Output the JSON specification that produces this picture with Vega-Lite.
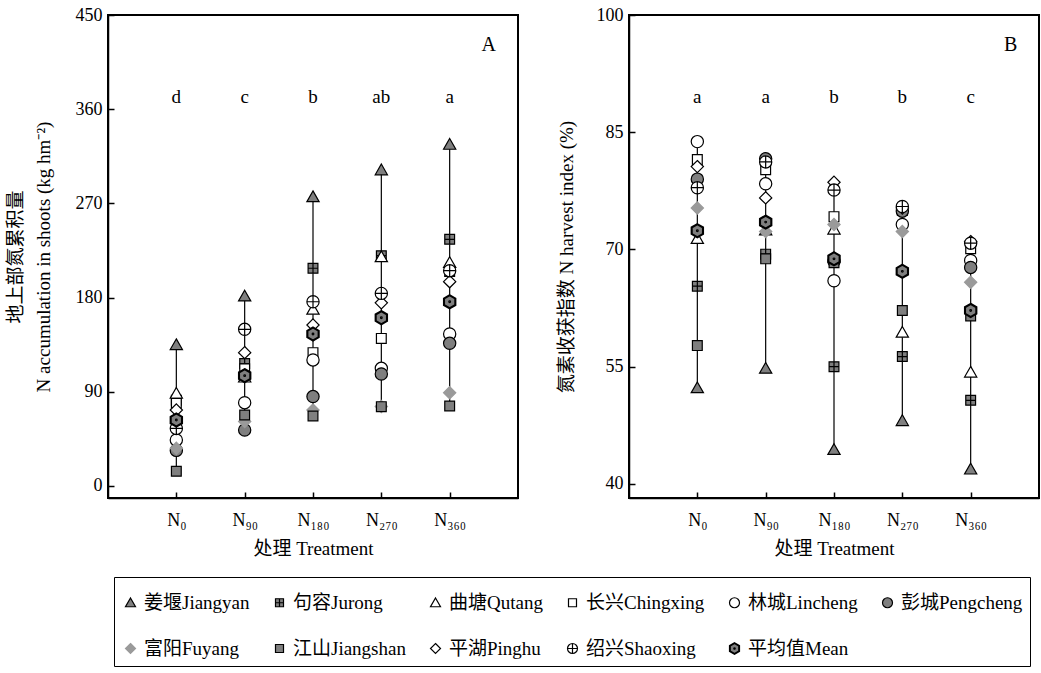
{
  "$schema": "https://vega.github.io/schema/vega-lite/v6.json",
  "background": "white",
  "padding": {"left": 5, "top": 5, "right": 5, "bottom": 5},
  "spacing": 37,
  "datasets": {
    "nacc": [
      {"treatment": "N₀", "site": "姜堰Jiangyan", "value": 135},
      {"treatment": "N₀", "site": "句容Jurong", "value": 82},
      {"treatment": "N₀", "site": "曲塘Qutang", "value": 88.5},
      {"treatment": "N₀", "site": "长兴Chingxing", "value": 79},
      {"treatment": "N₀", "site": "林城Lincheng", "value": 44},
      {"treatment": "N₀", "site": "彭城Pengcheng", "value": 34},
      {"treatment": "N₀", "site": "富阳Fuyang", "value": 36},
      {"treatment": "N₀", "site": "江山Jiangshan", "value": 14},
      {"treatment": "N₀", "site": "平湖Pinghu", "value": 72.6},
      {"treatment": "N₀", "site": "绍兴Shaoxing", "value": 55},
      {"treatment": "N₀", "site": "平均值Mean", "value": 63},
      {"treatment": "N₉₀", "site": "姜堰Jiangyan", "value": 181.5},
      {"treatment": "N₉₀", "site": "句容Jurong", "value": 117},
      {"treatment": "N₉₀", "site": "曲塘Qutang", "value": 104},
      {"treatment": "N₉₀", "site": "长兴Chingxing", "value": 112},
      {"treatment": "N₉₀", "site": "林城Lincheng", "value": 79.6},
      {"treatment": "N₉₀", "site": "彭城Pengcheng", "value": 53.5},
      {"treatment": "N₉₀", "site": "富阳Fuyang", "value": 61.5},
      {"treatment": "N₉₀", "site": "江山Jiangshan", "value": 67.8},
      {"treatment": "N₉₀", "site": "平湖Pinghu", "value": 127.4},
      {"treatment": "N₉₀", "site": "绍兴Shaoxing", "value": 149.7},
      {"treatment": "N₉₀", "site": "平均值Mean", "value": 105.4},
      {"treatment": "N₁₈₀", "site": "姜堰Jiangyan", "value": 276.4},
      {"treatment": "N₁₈₀", "site": "句容Jurong", "value": 208},
      {"treatment": "N₁₈₀", "site": "曲塘Qutang", "value": 168.8},
      {"treatment": "N₁₈₀", "site": "长兴Chingxing", "value": 127.4},
      {"treatment": "N₁₈₀", "site": "林城Lincheng", "value": 120.4},
      {"treatment": "N₁₈₀", "site": "彭城Pengcheng", "value": 85.4},
      {"treatment": "N₁₈₀", "site": "富阳Fuyang", "value": 72.6},
      {"treatment": "N₁₈₀", "site": "江山Jiangshan", "value": 66.9},
      {"treatment": "N₁₈₀", "site": "平湖Pinghu", "value": 153.8},
      {"treatment": "N₁₈₀", "site": "绍兴Shaoxing", "value": 176},
      {"treatment": "N₁₈₀", "site": "平均值Mean", "value": 145.2},
      {"treatment": "N₂₇₀", "site": "姜堰Jiangyan", "value": 302},
      {"treatment": "N₂₇₀", "site": "句容Jurong", "value": 220},
      {"treatment": "N₂₇₀", "site": "曲塘Qutang", "value": 219},
      {"treatment": "N₂₇₀", "site": "长兴Chingxing", "value": 141},
      {"treatment": "N₂₇₀", "site": "林城Lincheng", "value": 112.4},
      {"treatment": "N₂₇₀", "site": "彭城Pengcheng", "value": 107},
      {"treatment": "N₂₇₀", "site": "富阳Fuyang", "value": 76},
      {"treatment": "N₂₇₀", "site": "江山Jiangshan", "value": 75.8},
      {"treatment": "N₂₇₀", "site": "平湖Pinghu", "value": 175},
      {"treatment": "N₂₇₀", "site": "绍兴Shaoxing", "value": 184},
      {"treatment": "N₂₇₀", "site": "平均值Mean", "value": 160.8},
      {"treatment": "N₃₆₀", "site": "姜堰Jiangyan", "value": 326.4},
      {"treatment": "N₃₆₀", "site": "句容Jurong", "value": 235.7},
      {"treatment": "N₃₆₀", "site": "曲塘Qutang", "value": 213.4},
      {"treatment": "N₃₆₀", "site": "长兴Chingxing", "value": 205},
      {"treatment": "N₃₆₀", "site": "林城Lincheng", "value": 145.2},
      {"treatment": "N₃₆₀", "site": "彭城Pengcheng", "value": 136.3},
      {"treatment": "N₃₆₀", "site": "富阳Fuyang", "value": 89.1},
      {"treatment": "N₃₆₀", "site": "江山Jiangshan", "value": 76.4},
      {"treatment": "N₃₆₀", "site": "平湖Pinghu", "value": 195.2},
      {"treatment": "N₃₆₀", "site": "绍兴Shaoxing", "value": 205.7},
      {"treatment": "N₃₆₀", "site": "平均值Mean", "value": 176}
    ],
    "nhi": [
      {"treatment": "N₀", "site": "姜堰Jiangyan", "value": 52.3},
      {"treatment": "N₀", "site": "句容Jurong", "value": 65.3},
      {"treatment": "N₀", "site": "曲塘Qutang", "value": 71.4},
      {"treatment": "N₀", "site": "长兴Chingxing", "value": 81.5},
      {"treatment": "N₀", "site": "林城Lincheng", "value": 83.8},
      {"treatment": "N₀", "site": "彭城Pengcheng", "value": 79.0},
      {"treatment": "N₀", "site": "富阳Fuyang", "value": 75.3},
      {"treatment": "N₀", "site": "江山Jiangshan", "value": 57.7},
      {"treatment": "N₀", "site": "平湖Pinghu", "value": 80.6},
      {"treatment": "N₀", "site": "绍兴Shaoxing", "value": 77.9},
      {"treatment": "N₀", "site": "平均值Mean", "value": 72.4},
      {"treatment": "N₉₀", "site": "姜堰Jiangyan", "value": 54.8},
      {"treatment": "N₉₀", "site": "句容Jurong", "value": 69.4},
      {"treatment": "N₉₀", "site": "曲塘Qutang", "value": 72.5},
      {"treatment": "N₉₀", "site": "长兴Chingxing", "value": 80.2},
      {"treatment": "N₉₀", "site": "林城Lincheng", "value": 78.4},
      {"treatment": "N₉₀", "site": "彭城Pengcheng", "value": 81.6},
      {"treatment": "N₉₀", "site": "富阳Fuyang", "value": 72.3},
      {"treatment": "N₉₀", "site": "江山Jiangshan", "value": 68.8},
      {"treatment": "N₉₀", "site": "平湖Pinghu", "value": 76.6},
      {"treatment": "N₉₀", "site": "绍兴Shaoxing", "value": 81.2},
      {"treatment": "N₉₀", "site": "平均值Mean", "value": 73.5},
      {"treatment": "N₁₈₀", "site": "姜堰Jiangyan", "value": 44.4},
      {"treatment": "N₁₈₀", "site": "句容Jurong", "value": 55.0},
      {"treatment": "N₁₈₀", "site": "曲塘Qutang", "value": 72.6},
      {"treatment": "N₁₈₀", "site": "长兴Chingxing", "value": 74.2},
      {"treatment": "N₁₈₀", "site": "林城Lincheng", "value": 66.0},
      {"treatment": "N₁₈₀", "site": "彭城Pengcheng", "value": 68.5},
      {"treatment": "N₁₈₀", "site": "富阳Fuyang", "value": 73.2},
      {"treatment": "N₁₈₀", "site": "江山Jiangshan", "value": 68.3},
      {"treatment": "N₁₈₀", "site": "平湖Pinghu", "value": 78.6},
      {"treatment": "N₁₈₀", "site": "绍兴Shaoxing", "value": 77.6},
      {"treatment": "N₁₈₀", "site": "平均值Mean", "value": 68.8},
      {"treatment": "N₂₇₀", "site": "姜堰Jiangyan", "value": 48.1},
      {"treatment": "N₂₇₀", "site": "句容Jurong", "value": 56.3},
      {"treatment": "N₂₇₀", "site": "曲塘Qutang", "value": 59.4},
      {"treatment": "N₂₇₀", "site": "长兴Chingxing", "value": 75.0},
      {"treatment": "N₂₇₀", "site": "林城Lincheng", "value": 73.2},
      {"treatment": "N₂₇₀", "site": "彭城Pengcheng", "value": 74.9},
      {"treatment": "N₂₇₀", "site": "富阳Fuyang", "value": 72.3},
      {"treatment": "N₂₇₀", "site": "江山Jiangshan", "value": 62.2},
      {"treatment": "N₂₇₀", "site": "平湖Pinghu", "value": 75.3},
      {"treatment": "N₂₇₀", "site": "绍兴Shaoxing", "value": 75.5},
      {"treatment": "N₂₇₀", "site": "平均值Mean", "value": 67.2},
      {"treatment": "N₃₆₀", "site": "姜堰Jiangyan", "value": 41.9},
      {"treatment": "N₃₆₀", "site": "句容Jurong", "value": 50.7},
      {"treatment": "N₃₆₀", "site": "曲塘Qutang", "value": 54.3},
      {"treatment": "N₃₆₀", "site": "长兴Chingxing", "value": 70.1},
      {"treatment": "N₃₆₀", "site": "林城Lincheng", "value": 68.6},
      {"treatment": "N₃₆₀", "site": "彭城Pengcheng", "value": 67.7},
      {"treatment": "N₃₆₀", "site": "富阳Fuyang", "value": 65.8},
      {"treatment": "N₃₆₀", "site": "江山Jiangshan", "value": 61.5},
      {"treatment": "N₃₆₀", "site": "平湖Pinghu", "value": 71.0},
      {"treatment": "N₃₆₀", "site": "绍兴Shaoxing", "value": 70.8},
      {"treatment": "N₃₆₀", "site": "平均值Mean", "value": 62.2}
    ],
    "lettersA": [
      {"treatment": "N₀", "letter": "d", "value": 372},
      {"treatment": "N₉₀", "letter": "c", "value": 372},
      {"treatment": "N₁₈₀", "letter": "b", "value": 372},
      {"treatment": "N₂₇₀", "letter": "ab", "value": 372},
      {"treatment": "N₃₆₀", "letter": "a", "value": 372}
    ],
    "lettersB": [
      {"treatment": "N₀", "letter": "a", "value": 89.5},
      {"treatment": "N₉₀", "letter": "a", "value": 89.5},
      {"treatment": "N₁₈₀", "letter": "b", "value": 89.5},
      {"treatment": "N₂₇₀", "letter": "b", "value": 89.5},
      {"treatment": "N₃₆₀", "letter": "c", "value": 89.5}
    ],
    "panelA": [{"treatment": "N₃₆₀", "label": "A", "value": 421}],
    "panelB": [{"treatment": "N₃₆₀", "label": "B", "value": 96.15}]
  },
  "hconcat": [
    {
      "width": 410,
      "height": 483,
      "layer": [
        {
          "data": {"name": "nacc"},
          "mark": {"type": "rule", "color": "black", "strokeWidth": 1.2},
          "encoding": {
            "x": {"field": "treatment", "type": "ordinal", "sort": ["N₀", "N₉₀", "N₁₈₀", "N₂₇₀", "N₃₆₀"], "scale": {"type": "point", "padding": 1}, "axis": {"title": "处理 Treatment", "labelAngle": 0}},
            "y": {"aggregate": "min", "field": "value", "type": "quantitative", "scale": {"domain": [-11.5, 450], "nice": false, "zero": false}, "axis": {"values": [0, 90, 180, 270, 360, 450], "title": ["地上部氮累积量", "N accumulation in shoots (kg hm⁻²)"], "titleLineHeight": 28, "titlePadding": 22}},
            "y2": {"aggregate": "max", "field": "value"}
          }
        },
        {
          "data": {"name": "nacc"},
          "mark": {"type": "point", "filled": true, "opacity": 1, "size": 150, "strokeWidth": 1.2},
          "encoding": {
            "x": {"field": "treatment", "type": "ordinal", "sort": ["N₀", "N₉₀", "N₁₈₀", "N₂₇₀", "N₃₆₀"]},
            "y": {"field": "value", "type": "quantitative"},
            "shape": {"field": "site", "type": "nominal",
              "scale": {"domain": ["姜堰Jiangyan","句容Jurong","曲塘Qutang","长兴Chingxing","林城Lincheng","彭城Pengcheng","富阳Fuyang","江山Jiangshan","平湖Pinghu","绍兴Shaoxing","平均值Mean"],
                "range": ["M0,-0.95L1,0.8L-1,0.8Z", "M-0.8,-0.8H0.8V0.8H-0.8Z M0,-0.8V0.8 M-0.8,0H0.8", "M0,-0.95L1,0.8L-1,0.8Z", "M-0.8,-0.8H0.8V0.8H-0.8Z", "M1,0A1,1 0 1,1 -1,0A1,1 0 1,1 1,0Z", "M1,0A1,1 0 1,1 -1,0A1,1 0 1,1 1,0Z", "M0,-1L1,0L0,1L-1,0Z", "M-0.8,-0.8H0.8V0.8H-0.8Z", "M0,-1L1,0L0,1L-1,0Z", "M1,0A1,1 0 1,1 -1,0A1,1 0 1,1 1,0Z M0,-1V1 M-1,0H1", "M0,-1.15L1,-0.575L1,0.575L0,1.15L-1,0.575L-1,-0.575Z M0,-0.98L0.85,-0.49L0.85,0.49L0,0.98L-0.85,0.49L-0.85,-0.49Z M0.14,0A0.14,0.14 0 1,1 -0.14,0A0.14,0.14 0 1,1 0.14,0Z"]},
              "legend": {"title": " ", "titleFontSize": 6, "titlePadding": 3, "orient": "none", "legendX": 6, "legendY": 562, "direction": "horizontal", "columns": 6, "symbolSize": 100, "labelFontSize": 19, "labelFont": "Liberation Serif, Noto Sans CJK SC", "labelColor": "black", "columnPadding": 20, "rowPadding": 26, "padding": 7, "strokeColor": "black", "labelLimit": 250}},
            "fill": {"field": "site", "type": "nominal",
              "scale": {"domain": ["姜堰Jiangyan","句容Jurong","曲塘Qutang","长兴Chingxing","林城Lincheng","彭城Pengcheng","富阳Fuyang","江山Jiangshan","平湖Pinghu","绍兴Shaoxing","平均值Mean"],
                "range": ["#7f7f7f","#7f7f7f","#ffffff","#ffffff","#ffffff","#7f7f7f","#9a9a9a","#7f7f7f","#ffffff","#ffffff","#7f7f7f"]}},
            "stroke": {"field": "site", "type": "nominal",
              "scale": {"domain": ["姜堰Jiangyan","句容Jurong","曲塘Qutang","长兴Chingxing","林城Lincheng","彭城Pengcheng","富阳Fuyang","江山Jiangshan","平湖Pinghu","绍兴Shaoxing","平均值Mean"],
                "range": ["#000000","#000000","#000000","#000000","#000000","#000000","#9a9a9a","#000000","#000000","#000000","#000000"]}}
          }
        },
        {
          "data": {"name": "lettersA"},
          "mark": {"type": "text", "fontSize": 19, "font": "Liberation Serif", "baseline": "middle", "color": "black"},
          "encoding": {
            "x": {"field": "treatment", "type": "ordinal", "sort": ["N₀", "N₉₀", "N₁₈₀", "N₂₇₀", "N₃₆₀"]},
            "y": {"field": "value", "type": "quantitative"},
            "text": {"field": "letter"}
          }
        },
        {
          "data": {"name": "panelA"},
          "mark": {"type": "text", "fontSize": 20, "font": "Liberation Serif", "baseline": "middle", "color": "black", "dx": 39},
          "encoding": {
            "x": {"field": "treatment", "type": "ordinal", "sort": ["N₀", "N₉₀", "N₁₈₀", "N₂₇₀", "N₃₆₀"]},
            "y": {"field": "value", "type": "quantitative"},
            "text": {"field": "label"}
          }
        }
      ]
    },
    {
      "width": 410,
      "height": 483,
      "layer": [
        {
          "data": {"name": "nhi"},
          "mark": {"type": "rule", "color": "black", "strokeWidth": 1.2},
          "encoding": {
            "x": {"field": "treatment", "type": "ordinal", "sort": ["N₀", "N₉₀", "N₁₈₀", "N₂₇₀", "N₃₆₀"], "scale": {"type": "point", "padding": 1}, "axis": {"title": "处理 Treatment", "labelAngle": 0}},
            "y": {"aggregate": "min", "field": "value", "type": "quantitative", "scale": {"domain": [38.2, 100], "nice": false, "zero": false}, "axis": {"values": [40, 55, 70, 85, 100], "title": "氮素收获指数 N harvest index (%)", "titlePadding": 20}},
            "y2": {"aggregate": "max", "field": "value"}
          }
        },
        {
          "data": {"name": "nhi"},
          "mark": {"type": "point", "filled": true, "opacity": 1, "size": 150, "strokeWidth": 1.2},
          "encoding": {
            "x": {"field": "treatment", "type": "ordinal", "sort": ["N₀", "N₉₀", "N₁₈₀", "N₂₇₀", "N₃₆₀"]},
            "y": {"field": "value", "type": "quantitative"},
            "shape": {"field": "site", "type": "nominal"},
            "fill": {"field": "site", "type": "nominal"},
            "stroke": {"field": "site", "type": "nominal"}
          }
        },
        {
          "data": {"name": "lettersB"},
          "mark": {"type": "text", "fontSize": 19, "font": "Liberation Serif", "baseline": "middle", "color": "black"},
          "encoding": {
            "x": {"field": "treatment", "type": "ordinal", "sort": ["N₀", "N₉₀", "N₁₈₀", "N₂₇₀", "N₃₆₀"]},
            "y": {"field": "value", "type": "quantitative"},
            "text": {"field": "letter"}
          }
        },
        {
          "data": {"name": "panelB"},
          "mark": {"type": "text", "fontSize": 20, "font": "Liberation Serif", "baseline": "middle", "color": "black", "dx": 40},
          "encoding": {
            "x": {"field": "treatment", "type": "ordinal", "sort": ["N₀", "N₉₀", "N₁₈₀", "N₂₇₀", "N₃₆₀"]},
            "y": {"field": "value", "type": "quantitative"},
            "text": {"field": "label"}
          }
        }
      ]
    }
  ],
  "config": {
    "view": {"stroke": "black", "strokeWidth": 2},
    "axis": {"labelFont": "Liberation Serif", "labelFontSize": 18, "labelColor": "black", "titleFont": "Liberation Serif, Noto Sans CJK SC", "titleFontSize": 19, "titleFontWeight": "normal", "titleColor": "black", "domainColor": "black", "domainWidth": 1.5, "tickColor": "black", "tickWidth": 1.5, "tickSize": -6, "grid": false, "labelPadding": 12},
    "axisX": {"titlePadding": 10, "labelPadding": 19},
    "legend": {"symbolStrokeWidth": 1.2}
  }
}
